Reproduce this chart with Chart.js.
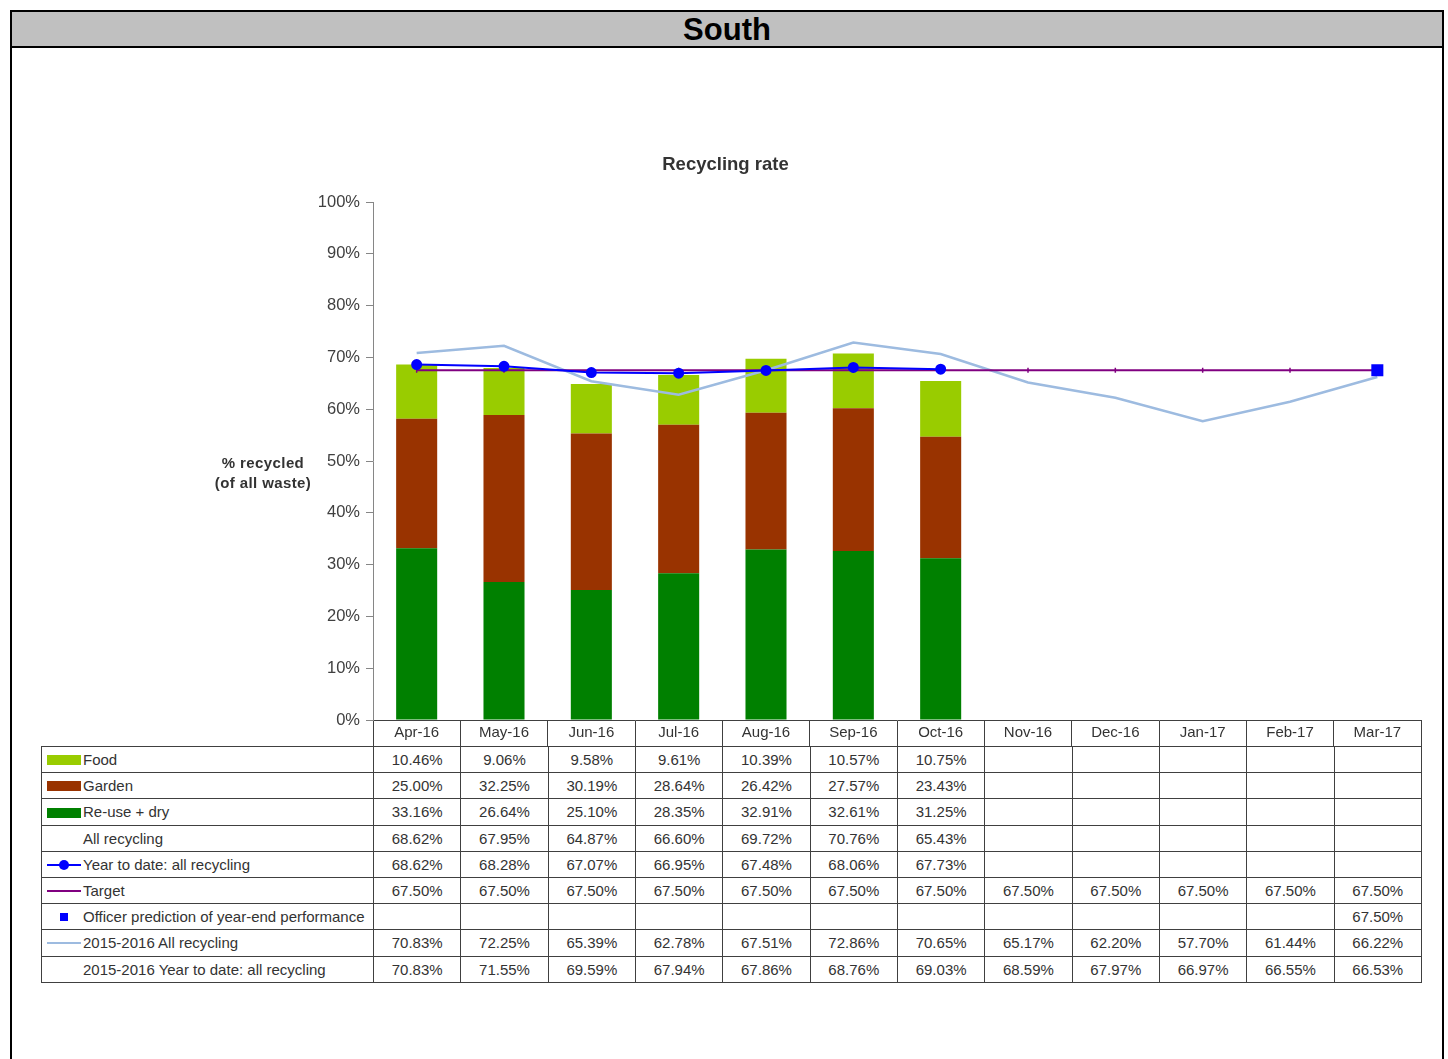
<!DOCTYPE html>
<html>
<head>
<meta charset="utf-8">
<script src="https://cdn.jsdelivr.net/npm/chart.js@4.4.1/dist/chart.umd.min.js"></script>
<style>
  html, body { margin: 0; padding: 0; background: #fff; }
  body { width: 1448px; height: 1059px; position: relative; overflow: hidden; font-family: "Liberation Sans", Arial, sans-serif; }
  #frame { position: absolute; left: 10px; top: 10px; width: 1434px; height: 1100px; border: 2px solid #000; box-sizing: border-box; }
  #band { position: absolute; left: 0; top: 0; right: 0; height: 34px; background: #c0c0c0; border-bottom: 2px solid #000; text-align: center; font-weight: bold; font-size: 31px; line-height: 36px; color: #000; }
  #wrap { position: absolute; left: 0; top: 48px; width: 1448px; height: 698px; }
  #ytitle { position: absolute; left: 193px; width: 140px; top: 453px; text-align: center; font-weight: bold; font-size: 15px; line-height: 20px; letter-spacing: 0.4px; color: #333; }
  #tbl { position: absolute; left: 41px; top: 746px; border-collapse: collapse; table-layout: fixed; width: 1380px; font-size: 15px; color: #333; }
  #tbl td { border: 1px solid #404040; height: 25.2px; padding: 0; text-align: center; white-space: nowrap; overflow: hidden; }
  #tbl td.lab { text-align: left; padding-left: 0; }
  .sw { display: inline-block; width: 34px; height: 10px; margin-left: 5px; margin-right: 2px; vertical-align: middle; position: relative; top: -1px; }
  .ln { display: inline-block; width: 34px; height: 12px; margin-left: 5px; margin-right: 2px; vertical-align: middle; position: relative; top: -1px; }
  .ln i { position: absolute; left: 0; right: 0; top: 5px; height: 2px; }
  .ln b { position: absolute; }
</style>
</head>
<body>
<div id="frame"><div id="band">South</div></div>
<div id="wrap"><canvas id="c" width="1448" height="698"></canvas></div>
<div id="ytitle">% recycled<br>(of all waste)</div>
<table id="tbl"></table>
<script>
// ---- data ----
const months = ['Apr-16','May-16','Jun-16','Jul-16','Aug-16','Sep-16','Oct-16','Nov-16','Dec-16','Jan-17','Feb-17','Mar-17'];
const food    = [10.46, 9.06, 9.58, 9.61, 10.39, 10.57, 10.75, null, null, null, null, null];
const garden  = [25.00, 32.25, 30.19, 28.64, 26.42, 27.57, 23.43, null, null, null, null, null];
const reuseDry = [33.16, 26.64, 25.10, 28.35, 32.91, 32.61, 31.25, null, null, null, null, null];
const allRecycling = [68.62, 67.95, 64.87, 66.60, 69.72, 70.76, 65.43, null, null, null, null, null];
const ytdAll  = [68.62, 68.28, 67.07, 66.95, 67.48, 68.06, 67.73, null, null, null, null, null];
const target  = [67.50, 67.50, 67.50, 67.50, 67.50, 67.50, 67.50, 67.50, 67.50, 67.50, 67.50, 67.50];
const officer = [null, null, null, null, null, null, null, null, null, null, null, 67.50];
const prevAll = [70.83, 72.25, 65.39, 62.78, 67.51, 72.86, 70.65, 65.17, 62.20, 57.70, 61.44, 66.22];
const prevYtd = [70.83, 71.55, 69.59, 67.94, 67.86, 68.76, 69.03, 68.59, 67.97, 66.97, 66.55, 66.53];
const yTicks = [0, 10, 20, 30, 40, 50, 60, 70, 80, 90, 100];

// ---- colours ----
const cFood = '#99cc00', cGarden = '#993300', cReuse = '#008000';
const cYtd = '#0000ff', cTarget = '#800080', cPrev = '#9dbbe0';

const F = '"Liberation Sans", Arial, sans-serif';

new Chart(document.getElementById('c'), {
  type: 'bar',
  data: {
    labels: months,
    datasets: [
      { type: 'bar', label: 'Re-use + dry', data: reuseDry, backgroundColor: cReuse, stack: 'bars', order: 10, barPercentage: 0.47, categoryPercentage: 1 },
      { type: 'bar', label: 'Garden', data: garden, backgroundColor: cGarden, stack: 'bars', order: 10, barPercentage: 0.47, categoryPercentage: 1 },
      { type: 'bar', label: 'Food', data: food, backgroundColor: cFood, stack: 'bars', order: 10, barPercentage: 0.47, categoryPercentage: 1 },
      { type: 'line', label: '2015-2016 All recycling', data: prevAll, stack: 'l1', borderColor: cPrev, borderWidth: 2.5, pointRadius: 0, tension: 0, order: 4 },
      { type: 'line', label: 'Target', data: target, stack: 'l2', borderColor: cTarget, borderWidth: 2, pointStyle: 'line', rotation: 90, pointRadius: 2.5, pointBorderWidth: 1.5, pointBorderColor: cTarget, tension: 0, order: 3 },
      { type: 'line', label: 'Year to date: all recycling', data: ytdAll, stack: 'l3', borderColor: cYtd, backgroundColor: cYtd, borderWidth: 2, pointRadius: 4.5, pointBackgroundColor: cYtd, pointBorderColor: cYtd, tension: 0, order: 2 },
      { type: 'line', label: 'Officer prediction of year-end performance', data: officer, stack: 'l4', borderColor: cYtd, backgroundColor: cYtd, showLine: false, pointStyle: 'rect', pointRadius: 8.5, pointBorderWidth: 0, pointBackgroundColor: cYtd, order: 1 }
    ]
  },
  options: {
    responsive: false,
    animation: false,
    events: [],
    layout: { padding: { top: 0, left: 30, right: 27, bottom: 0 } },
    plugins: {
      legend: { display: false },
      tooltip: { enabled: false },
      title: {
        display: true, text: 'Recycling rate', color: '#333',
        font: { family: F, size: 18.5, weight: 'bold' },
        padding: { top: 105.9, bottom: 25.9 }
      }
    },
    scales: {
      x: {
        stacked: true,
        offset: true,
        grid: { display: true, drawOnChartArea: false, drawTicks: true, tickLength: 26, offset: true, color: '#404040', lineWidth: 1 },
        border: { display: true, color: '#404040', width: 1 },
        ticks: { color: '#333', font: { family: F, size: 15 }, padding: -22, maxRotation: 0, autoSkip: false },
        afterFit: (s) => { s.height = 26; }
      },
      y: {
        stacked: true,
        min: 0, max: 100,
        afterBuildTicks: (s) => { s.ticks = yTicks.map(v => ({ value: v })); },
        grid: { display: true, drawOnChartArea: false, drawTicks: true, tickLength: 7, color: '#868686' },
        border: { display: true, color: '#868686', width: 1 },
        ticks: { color: '#404040', font: { family: F, size: 16.5 }, padding: 6, callback: (v) => v + '%' },
        afterFit: (s) => { s.width = 343; }
      }
    }
  }
});

// ---- data table ----
const fmt = (v) => (v === null || v === undefined) ? '' : v.toFixed(2) + '%';
const sw = (c) => '<span class="sw" style="background:' + c + '"></span>';
const ln = (c, marker) => '<span class="ln"><i style="background:' + c + '"></i>' + (marker || '') + '</span>';
const rows = [
  [sw(cFood), 'Food', food],
  [sw(cGarden), 'Garden', garden],
  [sw(cReuse), 'Re-use + dry', reuseDry],
  ['<span class="ln"></span>', 'All recycling', allRecycling],
  [ln(cYtd, '<b style="left:12px;top:1px;width:10px;height:10px;border-radius:50%;background:' + cYtd + '"></b>'), 'Year to date: all recycling', ytdAll],
  [ln(cTarget), 'Target', target],
  ['<span class="ln"><b style="left:13px;top:2px;width:8px;height:8px;background:' + cYtd + '"></b></span>', 'Officer prediction of year-end performance', officer],
  [ln(cPrev), '2015-2016 All recycling', prevAll],
  ['<span class="ln"></span>', '2015-2016 Year to date: all recycling', prevYtd]
];
let html = '<colgroup><col style="width:332px">' + months.map(() => '<col style="width:87.333px">').join('') + '</colgroup>';
rows.forEach(r => {
  html += '<tr><td class="lab">' + r[0] + r[1] + '</td>' + r[2].map(v => '<td>' + fmt(v) + '</td>').join('') + '</tr>';
});
document.getElementById('tbl').innerHTML = html;
</script>
</body>
</html>
